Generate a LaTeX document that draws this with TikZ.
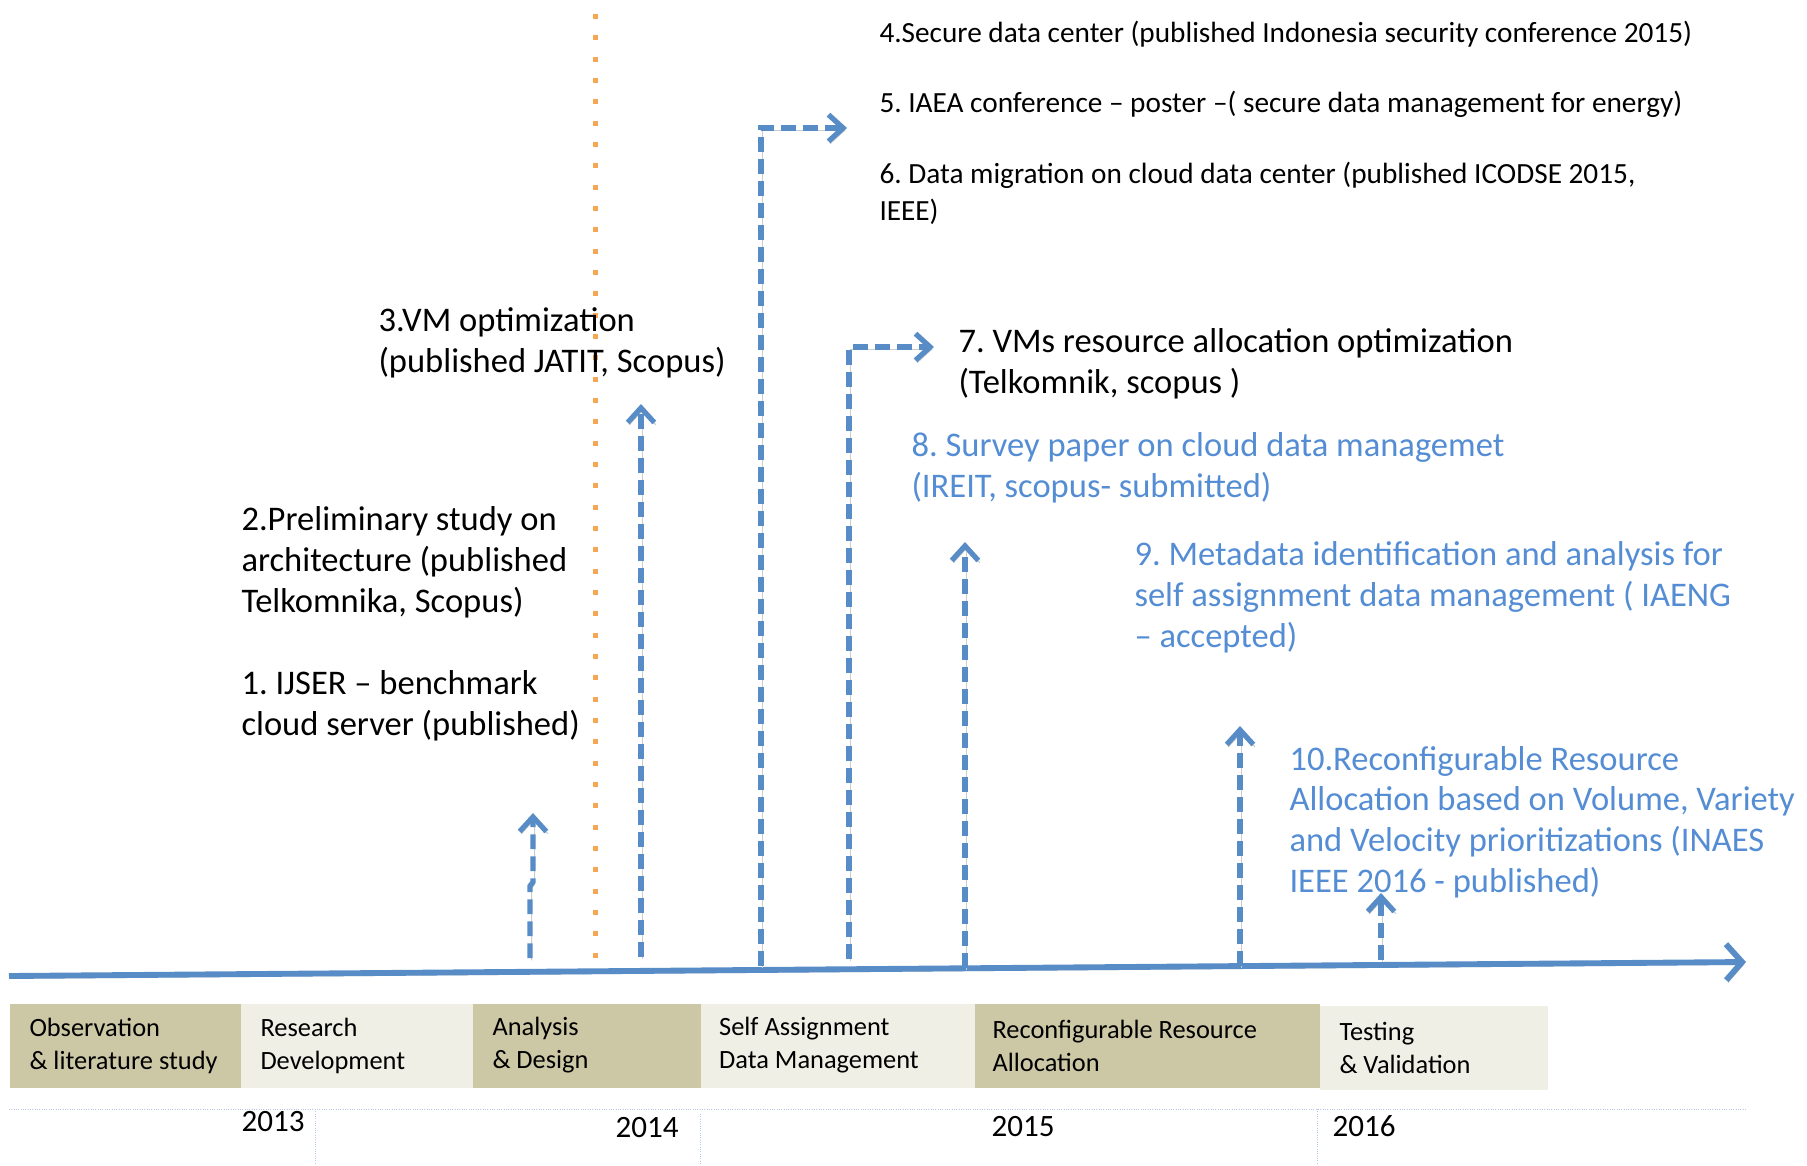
\documentclass[tikz,border=0pt]{standalone}
\usepackage{fontspec}
\setmainfont{Carlito}
\frenchspacing
\usetikzlibrary{arrows.meta}

\definecolor{phaseTan}{RGB}{204,199,165}
\definecolor{phaseLight}{RGB}{239,239,230}
\definecolor{arrowBlue}{RGB}{88,140,199}
\definecolor{textBlue}{RGB}{84,141,212}
\definecolor{dotOrange}{RGB}{247,166,84}
\definecolor{gridBlue}{RGB}{178,200,230}

\tikzset{every picture/.style={line width=0.75pt}}
\tikzset{
  softshadow/.style={preaction={draw=black!20, transform canvas={xshift=1.2pt,yshift=-1.8pt}}},
  link/.style={softshadow, color=arrowBlue, line width=3.9pt, dash pattern=on 11pt off 5.5pt,
    -{Straight Barb[length=11pt,width=20pt]}},
  axisline/.style={softshadow, color=arrowBlue, line width=4.4pt, -{Straight Barb[length=12pt,width=27pt]}},
  bigtxt/.style={anchor=base west, inner sep=0.75pt, align=left, font=\fontsize{25.9}{30.5}\selectfont},
  toptxt/.style={anchor=base west, inner sep=0.75pt, align=left, font=\fontsize{21.95}{27.75}\selectfont},
  phase/.style={anchor=north west, inner sep=0pt, minimum height=63pt},
  phasetxt/.style={anchor=west, inner sep=0pt, align=left, font=\fontsize{19.8}{24.75}\selectfont},
  yeartxt/.style={anchor=base west, inner sep=0.75pt, font=\fontsize{23.3}{28}\selectfont},
  gridline/.style={color=gridBlue, line width=0.75pt, densely dotted}
}

\begin{document}
\begin{tikzpicture}[x=0.75pt,y=0.75pt,yscale=-1,xscale=1]
\useasboundingbox (0,0) rectangle (1807,1165);

% Coordinates
\coordinate (ax0) at (9,976);
\coordinate (ax1) at (1746,962);
\coordinate (d0) at (595,14);
\coordinate (d1) at (595,959);
\coordinate (a1s) at (530,958);
\coordinate (a1k) at (530,886);
\coordinate (a1j) at (533,882);
\coordinate (a1t) at (533,813);
\coordinate (a2s) at (641,957);
\coordinate (a2t) at (641,404);
\coordinate (a3s) at (761,966);
\coordinate (a3t) at (847,128);
\coordinate (a4s) at (849,959);
\coordinate (a4t) at (934,347);
\coordinate (a5s) at (965,968);
\coordinate (a5t) at (965,542);
\coordinate (a6s) at (1240,966);
\coordinate (a6t) at (1240,726);
\coordinate (a7s) at (1381,960);
\coordinate (a7t) at (1381,893);
\coordinate (g0) at (9,1109);
\coordinate (g1) at (1746,1109);

%Straight Lines
\draw [gridline] (g0) -- (g1) ;
\draw [gridline] (315,1109) -- (315,1165) ;
\draw [gridline] (700,1114) -- (700,1165) ;
\draw [gridline] (1317,1109) -- (1317,1165) ;

%Straight Lines
\draw [color=dotOrange, line width=3.75pt, dash pattern=on 3.75pt off 12.25pt] (d0) -- (d1) ;

%Straight Lines
\draw [axisline] (ax0) -- (ax1) ;

%Straight Lines
\draw [link] (a1s) -- (a1k) -- (a1j) -- (a1t) ;
\draw [link] (a2s) -- (a2t) ;
\draw [link] (a3s) |- (a3t) ;
\draw [link] (a4s) |- (a4t) ;
\draw [link] (a5s) -- (a5t) ;
\draw [link] (a6s) -- (a6t) ;
\draw [link] (a7s) -- (a7t) ;

% Phase boxes
\node [phase, fill=phaseTan, minimum width=173.25pt] (ph1) at (9,1003) {};
\node [phase, fill=phaseLight, minimum width=174pt] (ph2) at (240,1003) {};
\node [phase, fill=phaseTan, minimum width=171pt] (ph3) at (472,1003) {};
\node [phase, fill=phaseLight, minimum width=205.5pt] (ph4) at (700,1003) {};
\node [phase, fill=phaseTan, minimum width=258.75pt] (ph5) at (974,1003) {};
\node [phase, fill=phaseLight, minimum width=171pt] (ph6) at (1319,1005) {};
\node [phasetxt] (t1) at ([xshift=15pt]ph1.west) {Observation\\\& literature study};
\node [phasetxt] (t2) at ([xshift=15pt]ph2.west) {Research\\Development};
\node [phasetxt] (t3) at ([xshift=15pt]ph3.west) {Analysis\\\& Design};
\node [phasetxt] (t4) at ([xshift=14pt]ph4.west) {Self Assignment\\Data Management};
\node [phasetxt] (t5) at ([xshift=13.5pt]ph5.west) {Reconfigurable Resource\\Allocation};
\node [phasetxt] (t6) at ([xshift=15pt]ph6.west) {Testing\\\& Validation};

% Text Node
\node [yeartxt] (y13) at (240,1131) {2013};
\node [yeartxt] (y14) at (614,1137) {2014};
\node [yeartxt] (y15) at (990,1136) {2015};
\node [yeartxt] (y16) at (1331,1136) {2016};

% Text Node
\node [bigtxt] (p1) at (240,735) {1. IJSER -- benchmark\\cloud server (published)};
\node [bigtxt] (p2) at (240,612) {2.Preliminary study on\\architecture (published\\Telkomnika, Scopus)};
\node [bigtxt] (p3) at (377,372) {3.VM optimization\\(published JATIT, Scopus)};
\node [toptxt] (p4) at (878,42) {4.Secure data center (published Indonesia security conference 2015)};
\node [toptxt] (p5) at (878,112) {5. IAEA conference -- poster --( secure data management for energy)};
\node [toptxt] (p6) at (878,220) {6. Data migration on cloud data center (published ICODSE 2015,\\IEEE)};
\node [bigtxt] (p7) at (957,393) {7. VMs resource allocation optimization\\(Telkomnik, scopus )};
\node [bigtxt, text=textBlue] (p8) at (910,497) {8. Survey paper on cloud data managemet\\(IREIT, scopus- submitted)};
\node [bigtxt, text=textBlue] (p9) at (1133,647) {9. Metadata identification and analysis for\\self assignment data management ( IAENG\\-- accepted)};
\node [bigtxt, text=textBlue] (p10) at (1288,892) {10.Reconfigurable Resource\\Allocation based on Volume, Variety\\and Velocity prioritizations (INAES\\IEEE 2016 - published)};

\end{tikzpicture}
\end{document}
